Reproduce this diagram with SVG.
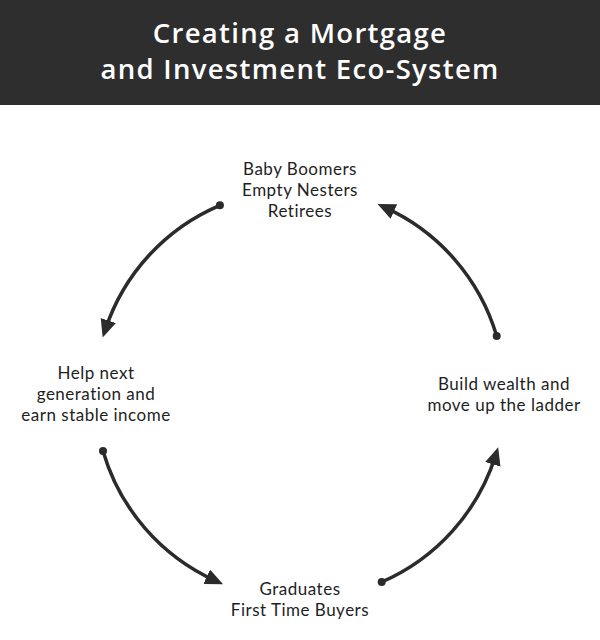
<svg xmlns="http://www.w3.org/2000/svg" width="600" height="640" viewBox="0 0 600 640">
<style>
.title{font-family:"Open Sans",Lato,"Liberation Sans",sans-serif;font-size:27.5px;font-weight:600;letter-spacing:1.3px;fill:#ffffff;text-anchor:middle}
.lbl{font-family:Lato,"Open Sans","Liberation Sans",sans-serif;font-size:17px;letter-spacing:0.5px;fill:#1e1e1e;text-anchor:middle}
.arc{fill:none;stroke:#2b2b2b;stroke-width:3.5;marker-end:url(#ah)}
.dot{fill:#2b2b2b}
</style>
<defs>
<marker id="ah" markerUnits="userSpaceOnUse" markerWidth="20" markerHeight="18" refX="10" refY="8" orient="auto" viewBox="0 0 20 18">
<path d="M0,0 L18,8 L0,16 z" fill="#2b2b2b"/>
</marker>
</defs>
<rect width="600" height="640" fill="#ffffff"/>
<g id="header">
<rect x="0" y="0" width="600" height="105" fill="#2e2e2e"/>
<text class="title" x="300" y="43">Creating a Mortgage</text>
<text class="title" x="300" y="79">and Investment Eco-System</text>
</g>
<g id="node-boomers">
<text class="lbl" x="300" y="175">Baby Boomers</text>
<text class="lbl" x="300" y="196">Empty Nesters</text>
<text class="lbl" x="300" y="217">Retirees</text>
</g>
<g id="node-help">
<text class="lbl" x="96" y="379">Help next</text>
<text class="lbl" x="96" y="400">generation and</text>
<text class="lbl" x="96" y="421">earn stable income</text>
</g>
<g id="node-build">
<text class="lbl" x="504" y="390">Build wealth and</text>
<text class="lbl" x="504" y="411">move up the ladder</text>
</g>
<g id="node-graduates">
<text class="lbl" x="300" y="595">Graduates</text>
<text class="lbl" x="300" y="616">First Time Buyers</text>
</g>
<g id="connectors">
<path class="arc" d="M219.9,205.3 A205,205 0 0 0 105.2,330.0"/>
<circle class="dot" cx="219.9" cy="205.3" r="4"/>
<path class="arc" d="M496.7,336.1 A205,205 0 0 0 384.8,207.4"/>
<circle class="dot" cx="496.7" cy="336.1" r="4"/>
<path class="arc" d="M103.0,450.9 A205,205 0 0 0 215.8,580.9"/>
<circle class="dot" cx="103.0" cy="450.9" r="4"/>
<path class="arc" d="M381.7,582.0 A205,205 0 0 0 495.8,454.8"/>
<circle class="dot" cx="381.7" cy="582.0" r="4"/>
</g>
</svg>
